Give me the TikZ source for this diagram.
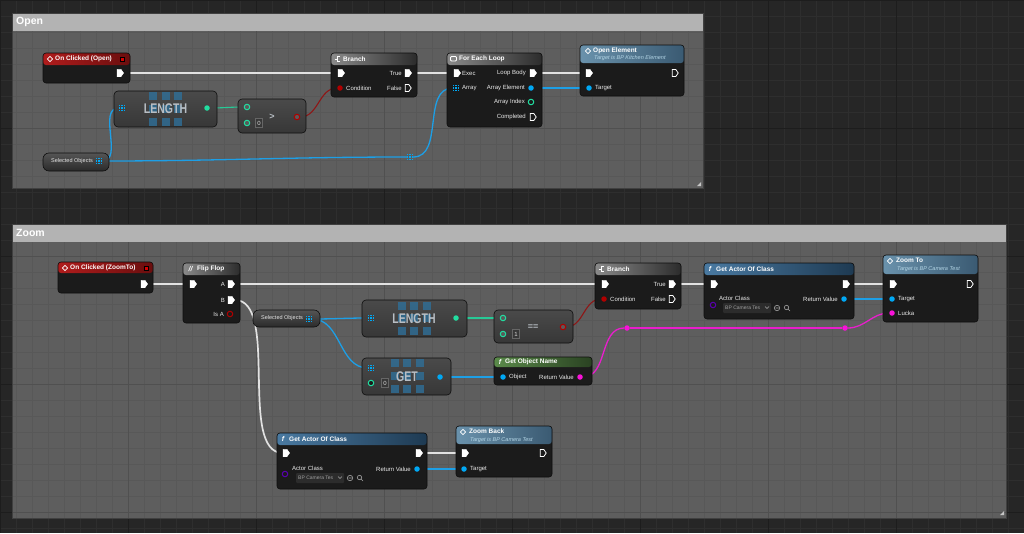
\documentclass[tikz,border=0pt]{standalone}
\usepackage{fontspec}
\setmainfont{Liberation Sans}
\usetikzlibrary{shapes.symbols,shapes.geometric,fit}
\pgfdeclarelayer{bg}
\pgfdeclarelayer{wires}
\pgfsetlayers{bg,wires,main}
\definecolor{bgdark}{HTML}{262626}
\definecolor{bggrid}{HTML}{2E2E2E}
\definecolor{bgmajor}{HTML}{1D1D1D}
\definecolor{cbody}{HTML}{5E5E5E}
\definecolor{cgrid}{HTML}{585858}
\definecolor{cmajor}{HTML}{505050}
\definecolor{chead}{HTML}{B3B3B3}
\definecolor{nbody}{HTML}{1B1B1B}
\definecolor{nborder}{HTML}{0E0E0E}
\definecolor{pbodytop}{HTML}{4A4A4A}
\definecolor{pbodybot}{HTML}{373737}
\definecolor{pinhole}{HTML}{5A5A5A}
\definecolor{gtop}{HTML}{555555}
\definecolor{gbot}{HTML}{2A2A2A}
\definecolor{evred}{HTML}{B01C1C}
\definecolor{evreddk}{HTML}{6A0E0E}
\definecolor{brgray}{HTML}{8A8A8A}
\definecolor{brgraydk}{HTML}{2C2C2C}
\definecolor{fnblue}{HTML}{4A7AA2}
\definecolor{fnbluedk}{HTML}{1E3A52}
\definecolor{tgblue}{HTML}{6A92AC}
\definecolor{tgbluedk}{HTML}{3A5A72}
\definecolor{fngreen}{HTML}{5A8A4A}
\definecolor{fngreendk}{HTML}{2A4222}
\definecolor{pinblue}{HTML}{00A8F4}
\definecolor{pingreen}{HTML}{22DDA0}
\definecolor{pinred}{HTML}{B00000}
\definecolor{pinmag}{HTML}{F812D8}
\definecolor{pinpurple}{HTML}{5A00B0}
\definecolor{wblue}{HTML}{1D9FE6}
\definecolor{wgreen}{HTML}{27C996}
\definecolor{wred}{HTML}{8E1616}
\definecolor{wmag}{HTML}{E81ECC}
\definecolor{wexec}{HTML}{E2E2E2}
\definecolor{subtxt}{HTML}{B4D6E6}
\definecolor{optxt}{HTML}{B8BEC4}
\definecolor{sqblue}{HTML}{2F6F98}
\definecolor{ddfill}{HTML}{2C2C2C}
\definecolor{ddtxt}{HTML}{A0A0A0}
\newcommand\bigsquares[2]{%
  \foreach \i in {-12.5,0,12.5}{\foreach \j in {-12.7,0,12.7}{%
    \fill[sqblue, opacity=0.8] (#1+\i-4,#2+\j-4) rectangle ++(8,8);}}}
\tikzset{
  cbox/.style={fit={#1}, inner sep=0, fill=cbody, draw=black!75, line width=0.8pt},
  ubody/.style={fit={#1}, inner sep=0, rounded corners=3pt, fill=nbody, draw=nborder, line width=0.6pt},
  pbody/.style={fit={#1}, inner sep=0, rounded corners=4pt, top color=pbodytop, bottom color=pbodybot, draw=nborder, line width=0.6pt},
  gbody/.style={fit={#1}, inner sep=0, rounded corners=6pt, top color=gtop, bottom color=gbot, draw=nborder, line width=0.6pt},
  hdr/.style n args={3}{path picture={\shade[left color=#1, right color=#2] (path picture bounding box.north west) rectangle ([yshift=-#3]path picture bounding box.north east);}},
  xon/.style={signal, signal to=east, signal pointer angle=110, fill=white, draw=white, line width=0.4pt, minimum width=6.5pt, minimum height=7.5pt, inner sep=0},
  xoff/.style={xon, fill=nbody, line width=0.8pt, minimum width=6pt, minimum height=7pt},
  dpin/.style={circle, fill=#1, minimum size=5.5pt, inner sep=0},
  rpin/.style={circle, draw=#1, fill=pinhole, line width=1pt, minimum size=5.5pt, inner sep=0},
  apin/.style={rectangle, minimum size=6pt, inner sep=0, path picture={\foreach \i in {0,1,2}{\foreach \j in {0,1,2}{\fill[pinblue] ([xshift=\i*2.25pt, yshift=-\j*2.25pt]path picture bounding box.north west) rectangle ++(1.45pt,-1.45pt);}}}},
  reroute/.style={circle, fill=pinmag, minimum size=5.5pt, inner sep=0},
  ttl/.style={font=\fontsize{6.5}{7}\selectfont\bfseries, text=white, inner sep=0, anchor=west},
  sub/.style={font=\fontsize{5.5}{6}\selectfont\itshape, text=subtxt, inner sep=0, anchor=west},
  plbl/.style={font=\fontsize{6}{6}\selectfont, text=white!92!black, inner sep=0},
  hicon/.style={font=\fontsize{7}{7}\selectfont\bfseries\itshape, text=white, inner sep=0},
  evicon/.style={diamond, draw=white, line width=0.7pt, minimum size=5.5pt, inner sep=0},
  evsq/.style={rectangle, fill=red!85!black, draw=black, line width=0.5pt, minimum size=4.5pt, inner sep=0},
  bigop/.style={font=\fontsize{14}{14}\selectfont\bfseries, text=optxt, inner sep=0},
  opsym/.style={font=\fontsize{9}{9}\selectfont\bfseries, text=optxt, inner sep=0},
  valbox/.style={draw=black!60, line width=0.6pt, fill=pbodybot, minimum width=7pt, minimum height=9pt, inner sep=0, font=\fontsize{6}{6}\selectfont, text=gray!30},
  ctitle/.style={font=\fontsize{10.5}{11}\selectfont\bfseries, text=white, inner sep=0, anchor=west},
  getlbl/.style={font=\fontsize{5.5}{6}\selectfont, text=white!90!black, inner sep=0},
  ddbox/.style={rectangle, fill=ddfill, rounded corners=1pt, minimum width=48pt, minimum height=10pt, inner sep=0},
  ddlbl/.style={font=\fontsize{5}{5}\selectfont, text=ddtxt, inner sep=0, anchor=west},
  icn/.style={draw=gray!70, line width=0.6pt},
  hico/.style={draw=white, line width=0.8pt},
  execw/.style={draw=wexec, line width=1.7pt},
  bluew/.style={draw=wblue, line width=1.3pt},
  greenw/.style={draw=wgreen, line width=1.1pt},
  redw/.style={draw=wred, line width=1.1pt},
  magw/.style={draw=wmag, line width=1.3pt},
  resz/.style={fill=gray!45!white}
}
\begin{document}
\begin{tikzpicture}[x=1pt,y=-1pt]
\useasboundingbox (0,0) rectangle (1024,533);
% ---------------- background and comments
\begin{pgfonlayer}{bg}
\fill[bgdark] (0,0) rectangle (1024,533);
\foreach \g in {0,16,...,1024} \draw[bggrid, line width=0.5pt] (\g,0) -- (\g,533);
\foreach \g in {0,16,...,528} \draw[bggrid, line width=0.5pt] (0,\g) -- (1024,\g);
\foreach \g in {0,128,...,1024} \draw[bgmajor, line width=0.9pt] (\g,0) -- (\g,533);
\foreach \g in {0,128,...,512} \draw[bgmajor, line width=0.9pt] (0,\g) -- (1024,\g);
\node[cbox={(12,13) (703,188)}] (cOpen) {};
\node[cbox={(12,224) (1006,518)}] (cZoom) {};
\begin{scope}
\clip (12,31) rectangle (703,188);
\foreach \g in {16,32,...,704} \draw[cgrid, line width=0.5pt] (\g,31) -- (\g,188);
\foreach \g in {32,48,...,188} \draw[cgrid, line width=0.5pt] (12,\g) -- (703,\g);
\foreach \g in {128,256,...,640} \draw[cmajor, line width=0.8pt] (\g,31) -- (\g,188);
\draw[cmajor, line width=0.8pt] (12,128) -- (703,128);
\end{scope}
\begin{scope}
\clip (12,242) rectangle (1006,518);
\foreach \g in {16,32,...,1006} \draw[cgrid, line width=0.5pt] (\g,242) -- (\g,518);
\foreach \g in {256,272,...,518} \draw[cgrid, line width=0.5pt] (12,\g) -- (1006,\g);
\foreach \g in {128,256,...,896} \draw[cmajor, line width=0.8pt] (\g,242) -- (\g,518);
\foreach \g in {256,384,512} \draw[cmajor, line width=0.8pt] (12,\g) -- (1006,\g);
\end{scope}
\fill[chead] (12,13) rectangle (703,31);
\fill[chead] (12,224) rectangle (1006,242);
\draw[black!75, line width=0.8pt] (12,13) rectangle (703,188);
\draw[black!75, line width=0.8pt] (12,224) rectangle (1006,518);
\fill[resz] (701,182) -- (701,186) -- (697,186) -- cycle;
\fill[resz] (1004,511) -- (1004,515) -- (1000,515) -- cycle;
\end{pgfonlayer}
\node[ctitle] (tOpen) at (16,22) {Open};
\node[ctitle] (tZoom) at (16,233) {Zoom};

% ================= OPEN =================
% On Clicked (Open)
\node[ubody={(43,53) (130,83)}, hdr={evred}{evreddk}{12pt}] (oEv) {};
\node[evicon] (oEvI) at (50,59) {};
\node[ttl] (oEvT) at (55,59) {On Clicked (Open)};
\node[evsq] (oEvS) at (122,59) {};
\node[xon] (oEvOut) at (119,73) {};
% LENGTH
\node[pbody={(114,91) (217,127)}] (oLen) {};
\bigsquares{165.5}{108.8}
\node[bigop] (oLenT) at (165.5,109) {\scalebox{0.75}[1]{LENGTH}};
\node[apin] (oLenIn) at (122,108) {};
\node[dpin=pingreen] (oLenOut) at (207,108) {};
% >
\node[pbody={(238,99) (306,133)}] (oGt) {};
\node[rpin=pingreen] (oGtA) at (247,107) {};
\node[rpin=pingreen] (oGtB) at (247,123) {};
\node[valbox] (oGtV) at (259,123) {0};
\node[opsym] (oGtS) at (272,117) {>};
\node[rpin=pinred] (oGtOut) at (297,117) {};
% Selected Objects
\node[gbody={(43,153) (109,171)}] (oSel) {};
\node[getlbl] (oSelT) at (72,161) {Selected Objects};
\node[apin] (oSelOut) at (99,161) {};
\node[apin] (oRr) at (410,157) {};
% Branch
\node[ubody={(331,53) (417,97)}, hdr={brgray}{brgraydk}{12pt}] (oBr) {};
\draw[hico] (339.5,56.5) -- (337,56.5) -- (337,61.5) -- (339.5,61.5) (334.5,59) -- (337,59);
\node[ttl] (oBrTt) at (343,59) {Branch};
\node[xon] (oBrIn) at (340,73) {};
\node[xon] (oBrT) at (407,73) {};
\node[plbl, anchor=east] (oBrTl) at (402,73) {True};
\node[dpin=pinred] (oBrC) at (340,88) {};
\node[plbl, anchor=west] (oBrCl) at (346,88) {Condition};
\node[xoff] (oBrF) at (407,88) {};
\node[plbl, anchor=east] (oBrFl) at (402,88) {False};
% For Each Loop
\node[ubody={(447,53) (542,127)}, hdr={brgray}{brgraydk}{12pt}] (oFe) {};
\draw[hico, rounded corners=1pt] (450.5,56.5) rectangle (456.5,61);
\node[ttl] (oFeTt) at (459,59) {For Each Loop};
\node[xon] (oFeIn) at (456,73) {};
\node[plbl, anchor=west] (oFeInl) at (462,73) {Exec};
\node[apin] (oFeArr) at (456,88) {};
\node[plbl, anchor=west] (oFeArrl) at (462,88) {Array};
\node[xon] (oFeBody) at (532,73) {};
\node[plbl, anchor=east] (oFeBodyl) at (526,73) {Loop Body};
\node[dpin=pinblue] (oFeElem) at (531,88) {};
\node[plbl, anchor=east] (oFeEleml) at (525,88) {Array Element};
\node[rpin=pingreen, fill=nbody] (oFeIdx) at (531,102) {};
\node[plbl, anchor=east] (oFeIdxl) at (525,102) {Array Index};
\node[xoff] (oFeDone) at (532,117) {};
\node[plbl, anchor=east] (oFeDonel) at (526,117) {Completed};
% Open Element
\node[ubody={(580,45) (684,96)}, hdr={tgblue}{tgbluedk}{18pt}] (oOe) {};
\node[evicon] (oOeI) at (588,51) {};
\node[ttl] (oOeT) at (593,50.5) {Open Element};
\node[sub] (oOeS) at (594,58.5) {Target is BP Kitchen Element};
\node[xon] (oOeIn) at (588,73) {};
\node[xoff] (oOeOut) at (674,73) {};
\node[dpin=pinblue] (oOeTgt) at (589,88) {};
\node[plbl, anchor=west] (oOeTgtl) at (595,88) {Target};

% ================= ZOOM =================
% On Clicked (ZoomTo)
\node[ubody={(58,262) (153,293)}, hdr={evred}{evreddk}{11pt}] (zEv) {};
\node[evicon] (zEvI) at (65,268) {};
\node[ttl] (zEvT) at (70,268) {On Clicked (ZoomTo)};
\node[evsq] (zEvS) at (146,268) {};
\node[xon] (zEvOut) at (143,284) {};
% Flip Flop
\node[ubody={(183,263) (240,323)}, hdr={brgray}{brgraydk}{12pt}] (zFf) {};
\node[hicon] (zFfI) at (190.5,269) {//};
\node[ttl] (zFfT) at (197,269) {Flip Flop};
\node[xon] (zFfIn) at (192,284) {};
\node[xon] (zFfA) at (230,284) {};
\node[plbl, anchor=east] (zFfAl) at (225,284) {A};
\node[xon] (zFfB) at (230,300) {};
\node[plbl, anchor=east] (zFfBl) at (225,300) {B};
\node[rpin=pinred, fill=nbody] (zFfIsA) at (230,314) {};
\node[plbl, anchor=east] (zFfIsAl) at (224,314) {Is A};
% Selected Objects
\node[gbody={(253,310) (320,327)}] (zSel) {};
\node[getlbl] (zSelT) at (282,318.5) {Selected Objects};
\node[apin] (zSelOut) at (309,319) {};
% LENGTH
\node[pbody={(362,300) (467,337)}] (zLen) {};
\bigsquares{414}{318.3}
\node[bigop] (zLenT) at (414,318.5) {\scalebox{0.75}[1]{LENGTH}};
\node[apin] (zLenIn) at (371,318) {};
\node[dpin=pingreen] (zLenOut) at (456,318) {};
% ==
\node[pbody={(494,310) (573,343)}] (zEq) {};
\node[rpin=pingreen] (zEqA) at (503,318) {};
\node[rpin=pingreen] (zEqB) at (503,334) {};
\node[valbox] (zEqV) at (516,334) {1};
\node[opsym] (zEqS) at (533,327) {==};
\node[rpin=pinred] (zEqOut) at (563,327) {};
% Branch
\node[ubody={(595,263) (681,309)}, hdr={brgray}{brgraydk}{12pt}] (zBr) {};
\draw[hico] (603.5,266.5) -- (601,266.5) -- (601,271.5) -- (603.5,271.5) (598.5,269) -- (601,269);
\node[ttl] (zBrTt) at (607,269) {Branch};
\node[xon] (zBrIn) at (604,284) {};
\node[xon] (zBrT) at (671,284) {};
\node[plbl, anchor=east] (zBrTl) at (666,284) {True};
\node[dpin=pinred] (zBrC) at (604,299) {};
\node[plbl, anchor=west] (zBrCl) at (610,299) {Condition};
\node[xoff] (zBrF) at (671,299) {};
\node[plbl, anchor=east] (zBrFl) at (666,299) {False};
% GET
\node[pbody={(362,358) (451,395)}] (zGet) {};
\bigsquares{407}{376}
\node[bigop] (zGetT) at (407,377) {\scalebox{0.75}[1]{GET}};
\node[apin] (zGetArr) at (371,368) {};
\node[rpin=pingreen, fill=nbody] (zGetIdx) at (371,383) {};
\node[valbox] (zGetV) at (385,383) {0};
\node[dpin=pinblue] (zGetOut) at (440,377) {};
% Get Object Name
\node[ubody={(494,357) (592,385)}, hdr={fngreen}{fngreendk}{10pt}] (zGon) {};
\node[hicon] (zGonI) at (500,362) {f};
\node[ttl] (zGonT) at (505,362) {Get Object Name};
\node[dpin=pinblue] (zGonObj) at (503,377) {};
\node[plbl, anchor=west] (zGonObjl) at (509,377) {Object};
\node[dpin=pinmag] (zGonRet) at (580,377) {};
\node[plbl, anchor=east] (zGonRetl) at (574,377) {Return Value};
% reroutes
\node[reroute] (zRr1) at (627,328) {};
\node[reroute] (zRr2) at (845,328) {};
% Get Actor Of Class (top)
\node[ubody={(704,263) (854,319)}, hdr={fnblue}{fnbluedk}{12pt}] (zGa1) {};
\node[hicon] (zGa1I) at (710,269) {f};
\node[ttl] (zGa1T) at (716,269) {Get Actor Of Class};
\node[xon] (zGa1In) at (713,284) {};
\node[xon] (zGa1Out) at (845,284) {};
\node[plbl, anchor=west] (zGa1Cl) at (719,298.5) {Actor Class};
\node[rpin=pinpurple, fill=nbody] (zGa1Cls) at (713,305) {};
\node[ddbox, anchor=west] (zGa1Dd) at (723,308) {};
\node[ddlbl] (zGa1Ddt) at (725,308) {BP Camera Tes};
\draw[icn] (765,306.5) -- (767,308.5) -- (769,306.5);
\draw[icn] (777,308) circle (2.7) (775.5,308) -- (778.5,308);
\draw[icn] (786.5,307.5) circle (2.2) (788.1,309.1) -- (790,311);
\node[dpin=pinblue] (zGa1Ret) at (844,299) {};
\node[plbl, anchor=east] (zGa1Retl) at (838,299) {Return Value};
% Zoom To
\node[ubody={(883,255) (978,322)}, hdr={tgblue}{tgbluedk}{19pt}] (zZt) {};
\node[evicon] (zZtI) at (890,261) {};
\node[ttl] (zZtT) at (896,260.5) {Zoom To};
\node[sub] (zZtS) at (897,269) {Target is BP Camera Test};
\node[xon] (zZtIn) at (892,284) {};
\node[xoff] (zZtOut) at (969,284) {};
\node[dpin=pinblue] (zZtTgt) at (892,299) {};
\node[plbl, anchor=west] (zZtTgtl) at (898,299) {Target};
\node[dpin=pinmag] (zZtLk) at (892,313) {};
\node[plbl, anchor=west] (zZtLkl) at (898,313) {Lucka};
% Get Actor Of Class (bottom)
\node[ubody={(277,433) (427,489)}, hdr={fnblue}{fnbluedk}{12pt}] (zGa2) {};
\node[hicon] (zGa2I) at (283,439) {f};
\node[ttl] (zGa2T) at (289,439) {Get Actor Of Class};
\node[xon] (zGa2In) at (285,453) {};
\node[xon] (zGa2Out) at (418,453) {};
\node[plbl, anchor=west] (zGa2Cl) at (292,468) {Actor Class};
\node[rpin=pinpurple, fill=nbody] (zGa2Cls) at (285,474) {};
\node[ddbox, anchor=west] (zGa2Dd) at (296,478) {};
\node[ddlbl] (zGa2Ddt) at (298,478) {BP Camera Tes};
\draw[icn] (338,476.5) -- (340,478.5) -- (342,476.5);
\draw[icn] (350,478) circle (2.7) (348.5,478) -- (351.5,478);
\draw[icn] (359.5,477.5) circle (2.2) (361.1,479.1) -- (363,481);
\node[dpin=pinblue] (zGa2Ret) at (417,469) {};
\node[plbl, anchor=east] (zGa2Retl) at (411,469) {Return Value};
% Zoom Back
\node[ubody={(456,426) (552,477)}, hdr={tgblue}{tgbluedk}{18pt}] (zZb) {};
\node[evicon] (zZbI) at (463,432) {};
\node[ttl] (zZbT) at (469,431.5) {Zoom Back};
\node[sub] (zZbS) at (470,440) {Target is BP Camera Test};
\node[xon] (zZbIn) at (464,453) {};
\node[xoff] (zZbOut) at (542,453) {};
\node[dpin=pinblue] (zZbTgt) at (464,469) {};
\node[plbl, anchor=west] (zZbTgtl) at (470,469) {Target};

% ================= WIRES =================
\begin{pgfonlayer}{wires}
\draw[execw] (oEvOut) -- (oBrIn);
\draw[execw] (oBrT) -- (oFeIn);
\draw[execw] (oFeBody) -- (oOeIn);
\draw[bluew] (oFeElem) -- (oOeTgt);
\draw[greenw] (oLenOut) to[out=0,in=180] (oGtA);
\draw[redw] (oGtOut) to[out=0,in=180] (oBrC);
\draw[bluew] (oSelOut) to[out=0,in=180] (oLenIn);
\draw[bluew] (oSelOut) to[out=0,in=180] (oRr);
\draw[bluew] (oRr) to[out=0,in=180] (oFeArr);
\draw[execw] (zEvOut) -- (zFfIn);
\draw[execw] (zFfA) -- (zBrIn);
\draw[execw] (zFfB.east) .. controls +(45,0) and +(-45,0) .. (zGa2In.west);
\draw[execw] (zBrT) -- (zGa1In);
\draw[execw] (zGa1Out) -- (zZtIn);
\draw[execw] (zGa2Out) -- (zZbIn);
\draw[bluew] (zGa1Ret) -- (zZtTgt);
\draw[bluew] (zGa2Ret) -- (zZbTgt);
\draw[bluew] (zSelOut) to[out=0,in=180] (zLenIn);
\draw[bluew] (zSelOut) to[out=0,in=180] (zGetArr);
\draw[greenw] (zLenOut) -- (zEqA);
\draw[redw] (zEqOut) to[out=0,in=180] (zBrC);
\draw[bluew] (zGetOut) -- (zGonObj);
\draw[magw] (zGonRet) to[out=0,in=180] (zRr1);
\draw[magw] (zRr1) -- (zRr2);
\draw[magw] (zRr2) to[out=0,in=180] (zZtLk);
\end{pgfonlayer}
\end{tikzpicture}
\end{document}
